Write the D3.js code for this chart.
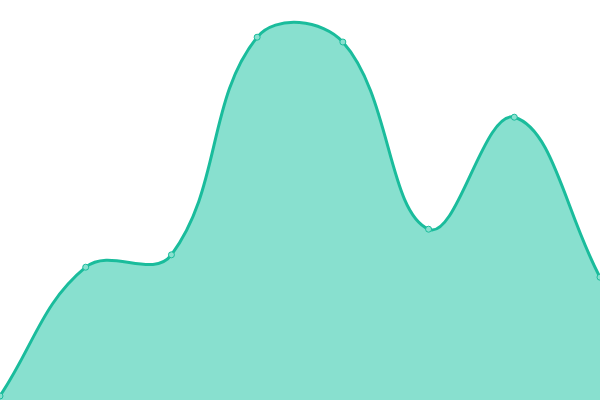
<!DOCTYPE html>
<html>
<head>
<meta charset="utf-8">
<script src="https://cdn.jsdelivr.net/npm/d3@7"></script>
<style>
  html, body { margin: 0; padding: 0; background: #fff; }
  svg { display: block; }
</style>
</head>
<body>
<div id="viz"></div>
<script>
// chart data
var categories = ["P1", "P2", "P3", "P4", "P5", "P6", "P7", "P8"];
var values = [1.0, 33.2, 36.3, 90.7, 89.5, 42.7, 70.7, 30.7];

var width = 600;
var height = 400;
var tension = 0.4;

var svg = d3.select("#viz")
  .append("svg")
  .attr("width", width)
  .attr("height", height);

var x_scale = d3.scalePoint()
  .domain(categories)
  .range([0, width]);

var y_scale = d3.scaleLinear()
  .domain([0, 100])
  .range([height, 0]);

var pts = categories.map(function(c, i){
  return { x: x_scale(c), y: y_scale(values[i]) };
});

// spline control points, tension style curve
function clamp(v, lo, hi){ return Math.max(lo, Math.min(hi, v)); }

pts.forEach(function(p, i){
  var prev = pts[i - 1] || p;
  var next = pts[i + 1] || p;
  var d01 = Math.hypot(p.x - prev.x, p.y - prev.y);
  var d12 = Math.hypot(next.x - p.x, next.y - p.y);
  var fa = d01 / (d01 + d12);
  var fb = d12 / (d01 + d12);
  if (isNaN(fa)) fa = 0;
  if (isNaN(fb)) fb = 0;
  fa = fa * tension;
  fb = fb * tension;
  p.cpPrevX = clamp(p.x - fa * (next.x - prev.x), 0, width);
  p.cpPrevY = clamp(p.y - fa * (next.y - prev.y), 0, height);
  p.cpNextX = clamp(p.x + fb * (next.x - prev.x), 0, width);
  p.cpNextY = clamp(p.y + fb * (next.y - prev.y), 0, height);
});

function curvePath(path){
  path.moveTo(pts[0].x, pts[0].y);
  for (var i = 1; i < pts.length; i++){
    var a = pts[i - 1], b = pts[i];
    path.bezierCurveTo(a.cpNextX, a.cpNextY, b.cpPrevX, b.cpPrevY, b.x, b.y);
  }
  return path;
}

var areaPath = curvePath(d3.path());
areaPath.lineTo(pts[pts.length - 1].x, y_scale(0));
areaPath.lineTo(pts[0].x, y_scale(0));
areaPath.closePath();

svg.append("path")
  .attr("d", areaPath.toString())
  .attr("fill", "#88e0cf")
  .attr("stroke", "none");

svg.append("path")
  .attr("d", curvePath(d3.path()).toString())
  .attr("fill", "none")
  .attr("stroke", "#1abc9c")
  .attr("stroke-width", 3);

svg.selectAll(".dot")
  .data(pts)
  .enter()
  .append("circle")
  .attr("class", "dot")
  .attr("cx", function(d){ return d.x; })
  .attr("cy", function(d){ return d.y; })
  .attr("r", 3)
  .attr("fill", "#88e0cf")
  .attr("stroke", "#1abc9c")
  .attr("stroke-width", 1);
</script>
</body>
</html>
